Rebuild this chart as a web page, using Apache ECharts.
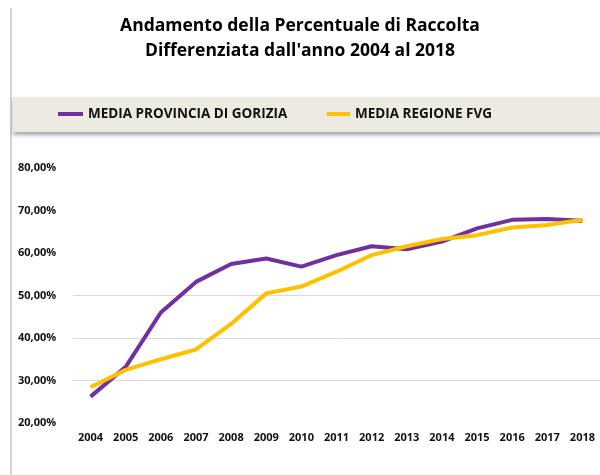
<!DOCTYPE html>
<html>
<head>
<meta charset="utf-8">
<script src="https://cdn.jsdelivr.net/npm/echarts@6/dist/echarts.min.js"></script>
<style>
  html, body { margin: 0; padding: 0; background: #fff; }
  #chart { width: 600px; height: 475px; }
</style>
</head>
<body>
<div id="chart"></div>
<script>
const years = ["2004", "2005", "2006", "2007", "2008", "2009", "2010", "2011", "2012", "2013", "2014", "2015", "2016", "2017", "2018"];
const gorizia = [26.2, 33.2, 46.0, 53.2, 57.4, 58.7, 56.8, 59.5, 61.6, 60.9, 62.7, 65.8, 67.8, 68.0, 67.6];
const fvg = [28.4, 32.5, 35.0, 37.3, 43.3, 50.5, 52.1, 55.6, 59.5, 61.6, 63.3, 64.2, 66.0, 66.6, 67.8];
// only these gridlines are drawn in the original
const gridValues = [30, 40, 50];

const font = "'Open Sans', sans-serif";
const chart = echarts.init(document.getElementById("chart"));

const legendText = { fontFamily: font, fontWeight: "bold", fontSize: 13.5, color: "#111" };

chart.setOption({
  animation: false,
  title: {
    text: "Andamento della Percentuale di Raccolta\nDifferenziata dall'anno 2004 al 2018",
    left: "center",
    top: 9,
    textStyle: { fontFamily: font, fontWeight: "bold", fontSize: 17.5, lineHeight: 25, color: "#000" }
  },
  graphic: [
    {
      type: "line",
      shape: { x1: 11, y1: 8, x2: 11, y2: 475 },
      style: { stroke: "#d4d4d4", lineWidth: 2 }
    },
    {
      type: "rect",
      shape: { x: 13, y: 97, width: 590, height: 35 },
      style: { fill: "#ECEAE1", shadowBlur: 4, shadowOffsetY: 3, shadowColor: "rgba(0,0,0,0.35)" },
      z: 0
    }
  ],
  legend: [
    {
      left: 58, top: 107, padding: 0,
      data: ["MEDIA PROVINCIA DI GORIZIA"],
      icon: "rect",
      itemWidth: 25, itemHeight: 4, itemGap: 2,
      textStyle: legendText
    },
    {
      left: 327, top: 107, padding: 0,
      data: ["MEDIA REGIONE FVG"],
      icon: "rect",
      itemWidth: 23, itemHeight: 4, itemGap: 2,
      textStyle: legendText
    }
  ],
  grid: { left: 73, right: -3, top: 168, bottom: 52 },
  xAxis: {
    type: "category",
    data: years,
    boundaryGap: true,
    axisLine: { show: false },
    axisTick: { show: false },
    axisLabel: { fontFamily: font, fontWeight: "bold", fontSize: 11, color: "#111", margin: 9 }
  },
  yAxis: {
    type: "value",
    min: 20,
    max: 80,
    interval: 10,
    axisLine: { show: false },
    axisTick: { show: false },
    axisLabel: {
      fontFamily: font, fontWeight: "bold", fontSize: 11, color: "#111",
      align: "left", margin: 55,
      formatter: (v) => v.toFixed(2).replace(".", ",") + "%"
    },
    splitLine: { show: false }
  },
  series: [
    {
      name: "MEDIA PROVINCIA DI GORIZIA",
      type: "line",
      data: gorizia,
      symbol: "none",
      lineStyle: { color: "#7030A0", width: 4 },
      itemStyle: { color: "#7030A0" },
      markLine: {
        silent: true,
        symbol: "none",
        label: { show: false },
        lineStyle: { color: "#d9d9d9", width: 1, type: "solid" },
        data: gridValues.map((v) => ({ yAxis: v })),
        z: 1
      },
      z: 3
    },
    {
      name: "MEDIA REGIONE FVG",
      type: "line",
      data: fvg,
      symbol: "none",
      lineStyle: { color: "#FFC000", width: 4 },
      itemStyle: { color: "#FFC000" },
      z: 4
    }
  ]
});
</script>
</body>
</html>
